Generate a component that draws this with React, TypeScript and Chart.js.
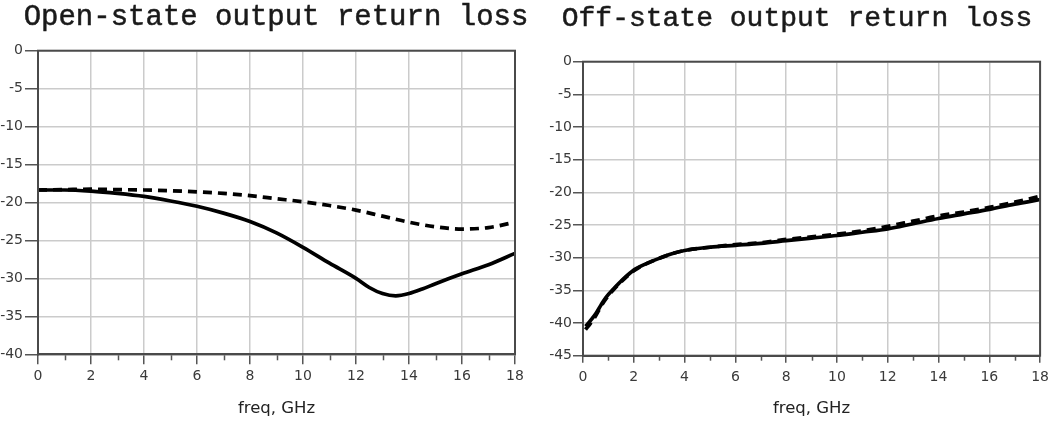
import React, { useEffect, useRef } from "react";
import { Chart, registerables } from "chart.js";

Chart.register(...registerables);

// ---------- text ----------
const openTitle = "Open-state output return loss";
const offTitle = "Off-state output return loss";
const xAxisTitle = "freq, GHz";

// ---------- left chart (open state) ----------
const openFreqSolid = [0, 1, 2, 3, 4, 5, 6, 7, 8, 9, 10, 11, 12, 12.5, 13, 13.5, 14, 14.5, 15, 16, 17, 18];
const openSolid = [-18.35, -18.35, -18.5, -18.8, -19.2, -19.8, -20.5, -21.4, -22.5, -24.0, -25.9, -28.0, -30.0, -31.2, -32.0, -32.3, -32.0, -31.4, -30.7, -29.4, -28.2, -26.7];
const openFreqDashed = [0, 1, 2, 3, 4, 5, 6, 7, 8, 9, 10, 11, 12, 13, 14, 15, 16, 17, 18];
const openDashed = [-18.35, -18.3, -18.25, -18.3, -18.35, -18.45, -18.6, -18.8, -19.1, -19.5, -19.9, -20.4, -21.0, -21.8, -22.6, -23.2, -23.5, -23.3, -22.6];

// ---------- right chart (off state) ----------
const offFreq = [0.1, 0.3, 0.5, 0.7, 0.9, 1.2, 1.55, 2, 2.5, 3, 3.5, 4, 5, 6, 7, 8, 9, 10, 11, 12, 13, 14, 15, 16, 17, 18];
const offSolid = [-40.5, -39.6, -38.6, -37.3, -36.1, -34.8, -33.4, -31.9, -30.9, -30.1, -29.4, -28.9, -28.4, -28.1, -27.8, -27.4, -27.0, -26.6, -26.1, -25.6, -24.8, -24.0, -23.3, -22.6, -21.8, -21.1];
const offDashed = [-41.0, -40.0, -38.9, -37.5, -36.3, -34.9, -33.5, -32.0, -30.9, -30.1, -29.4, -28.9, -28.4, -28.0, -27.7, -27.2, -26.8, -26.4, -25.9, -25.2, -24.4, -23.6, -23.0, -22.3, -21.5, -20.6];

// ---------- axes ----------
const xMin = 0;
const xMax = 18;
const xStep = 2;
const xMinorTicks = [1, 3, 5, 7, 9, 11, 13, 15, 17];
const yStep = 5;
const openYMin = -40;
const offYMin = -45;
const yMax = 0;

const tickFont = { family: '"DejaVu Sans", sans-serif', size: 14 };
const tickColor = "#3a3a3a";
const gridColor = "#cbcbcb";
const axisColor = "#4a4a4a";

function pts(xs: number[], ys: number[]) {
  return xs.map((x, i) => ({ x, y: ys[i] }));
}

const axisDecor = {
  id: "axisDecor",
  afterDraw(chart: any, _args: any, opts: any) {
    const { ctx, chartArea: a, scales } = chart;
    const xs = scales.x;
    ctx.save();
    ctx.strokeStyle = "#555";
    ctx.lineWidth = 1.5;
    for (const v of opts.minor || []) {
      const px = Math.round(xs.getPixelForValue(v)) + 0.5;
      ctx.beginPath();
      ctx.moveTo(px, a.bottom + 1);
      ctx.lineTo(px, a.bottom + 1 + opts.minorLen);
      ctx.stroke();
    }
    ctx.strokeStyle = axisColor;
    ctx.lineWidth = 2;
    ctx.strokeRect(a.left, a.top, a.right - a.left, a.bottom - a.top);
    ctx.restore();
  },
};

type Cfg = {
  solid: { x: number; y: number }[];
  dashed: { x: number; y: number }[];
  yMin: number;
  yWidth: number;
  xHeight: number;
  padTop: number;
  padRight: number;
  yTickLen: number;
  yTickPad: number;
  xTickLen: number;
  xTickPad: number;
  minorLen: number;
};

function makeConfig(c: Cfg): any {
  return {
    type: "line",
    data: {
      datasets: [
        {
          data: c.dashed,
          borderColor: "#000",
          borderWidth: 3.7,
          borderDash: [9, 6],
          pointRadius: 0,
          cubicInterpolationMode: "monotone",
          fill: false,
        },
        {
          data: c.solid,
          borderColor: "#000",
          borderWidth: 3.7,
          pointRadius: 0,
          cubicInterpolationMode: "monotone",
          fill: false,
        },
      ],
    },
    options: {
      responsive: false,
      animation: false,
      layout: { padding: { left: 0, right: c.padRight, top: c.padTop, bottom: 0 } },
      plugins: {
        legend: { display: false },
        tooltip: { enabled: false },
        title: { display: false },
        axisDecor: { minor: xMinorTicks, minorLen: c.minorLen },
      },
      scales: {
        x: {
          type: "linear",
          min: xMin,
          max: xMax,
          ticks: { stepSize: xStep, font: tickFont, color: tickColor, padding: c.xTickPad, maxRotation: 0 },
          grid: { color: gridColor, lineWidth: 1.5, tickLength: c.xTickLen, tickColor: "#555", tickWidth: 1.5 },
          border: { color: axisColor, width: 2 },
          title: {
            display: true,
            text: xAxisTitle,
            font: { family: '"DejaVu Sans", sans-serif', size: 16.5 },
            color: "#222",
            padding: { top: 0, bottom: 2 },
          },
          afterFit: (s: any) => {
            s.height = c.xHeight;
          },
        },
        y: {
          min: c.yMin,
          max: yMax,
          ticks: { stepSize: yStep, font: tickFont, color: tickColor, padding: c.yTickPad },
          grid: { color: gridColor, lineWidth: 1.5, tickLength: c.yTickLen, tickColor: "#555", tickWidth: 1.5 },
          border: { color: axisColor, width: 2 },
          afterFit: (s: any) => {
            s.width = c.yWidth;
          },
        },
      },
    },
    plugins: [axisDecor],
  };
}

function ChartCanvas({ cfg, left, width }: { cfg: Cfg; left: number; width: number }) {
  const ref = useRef<HTMLCanvasElement | null>(null);
  useEffect(() => {
    if (!ref.current) return;
    const chart = new Chart(ref.current, makeConfig(cfg));
    return () => chart.destroy();
  }, []);
  return (
    <canvas
      ref={ref}
      width={width}
      height={421}
      style={{ position: "absolute", left, top: 0, width, height: 421 }}
    />
  );
}

const titleStyle: React.CSSProperties = {
  position: "absolute",
  fontFamily: '"Liberation Mono", monospace',
  lineHeight: "34px",
  color: "#1a1a1a",
  textAlign: "center",
  whiteSpace: "nowrap",
  WebkitTextStroke: "0.5px #1a1a1a",
};

export default function App() {
  const leftCfg: Cfg = {
    solid: pts(openFreqSolid, openSolid),
    dashed: pts(openFreqDashed, openDashed),
    yMin: openYMin,
    yWidth: 38,
    xHeight: 66.7,
    padTop: 50.7,
    padRight: 25,
    yTickLen: 13,
    yTickPad: 2,
    xTickLen: 10,
    xTickPad: 4,
    minorLen: 5,
  };
  const rightCfg: Cfg = {
    solid: pts(offFreq, offSolid),
    dashed: pts(offFreq, offDashed),
    yMin: offYMin,
    yWidth: 43,
    xHeight: 65.3,
    padTop: 61.7,
    padRight: 10,
    yTickLen: 10,
    yTickPad: 1,
    xTickLen: 7,
    xTickPad: 6,
    minorLen: 4,
  };
  return (
    <div style={{ position: "absolute", left: 0, top: 0, width: 1055, height: 421, background: "#fff", overflow: "hidden" }}>
      <ChartCanvas cfg={leftCfg} left={0} width={540} />
      <ChartCanvas cfg={rightCfg} left={540} width={515} />
      <div style={{ ...titleStyle, fontSize: 29, left: 0, width: 552, top: 1 }}>{openTitle}</div>
      <div style={{ ...titleStyle, fontSize: 28, left: 539, width: 516, top: 2 }}>{offTitle}</div>
    </div>
  );
}
